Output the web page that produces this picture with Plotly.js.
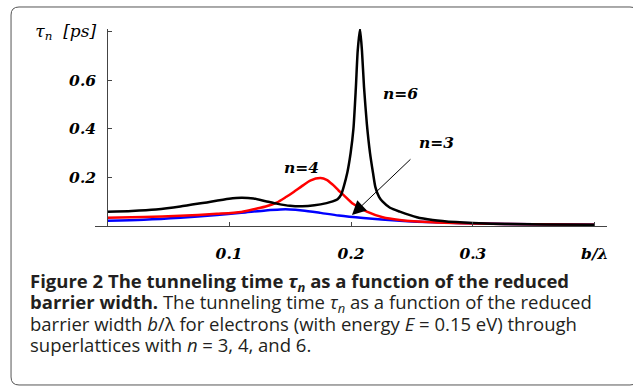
<!DOCTYPE html>
<html>
<head>
<meta charset="utf-8">
<script src="https://cdn.plot.ly/plotly-3.0.1.min.js"></script>
<style>
html,body{margin:0;padding:0;background:#fff;}
#chart{width:633px;height:388px;}
</style>
</head>
<body>
<div id="chart"></div>
<script>
// Reduced barrier width b/lambda and tunneling time tau_n [ps]
const b6 = [0, 0.02, 0.04, 0.06, 0.08, 0.10, 0.11, 0.12, 0.13, 0.14, 0.15, 0.16, 0.17, 0.18, 0.185, 0.189, 0.192, 0.194, 0.197, 0.1997, 0.202, 0.204, 0.2055, 0.2074, 0.209, 0.2107, 0.213, 0.2156, 0.218, 0.22, 0.223, 0.226, 0.232, 0.24, 0.254, 0.267, 0.286, 0.30, 0.33, 0.36, 0.40];
const tau6 = [0.059, 0.062, 0.068, 0.080, 0.096, 0.112, 0.116, 0.113, 0.102, 0.091, 0.083, 0.081, 0.085, 0.094, 0.101, 0.11, 0.13, 0.161, 0.22, 0.30, 0.40, 0.57, 0.72, 0.81, 0.72, 0.57, 0.42, 0.30, 0.22, 0.16, 0.12, 0.10, 0.075, 0.059, 0.036, 0.025, 0.016, 0.012, 0.008, 0.006, 0.005];

const b4 = [0, 0.03, 0.06, 0.09, 0.11, 0.123, 0.13, 0.139, 0.147, 0.153, 0.16, 0.167, 0.175, 0.18, 0.185, 0.19, 0.194, 0.202, 0.213, 0.226, 0.24, 0.267, 0.30, 0.35, 0.40];
const tau4 = [0.034, 0.037, 0.042, 0.050, 0.058, 0.072, 0.080, 0.096, 0.120, 0.140, 0.165, 0.188, 0.197, 0.190, 0.170, 0.145, 0.127, 0.090, 0.059, 0.036, 0.025, 0.015, 0.010, 0.007, 0.005];

const b3 = [0, 0.03, 0.06, 0.09, 0.11, 0.13, 0.142, 0.15, 0.16, 0.175, 0.19, 0.21, 0.24, 0.27, 0.30, 0.35, 0.40];
const tau3 = [0.022, 0.026, 0.034, 0.045, 0.054, 0.064, 0.068, 0.068, 0.064, 0.054, 0.043, 0.033, 0.022, 0.015, 0.011, 0.007, 0.005];

const xTickVals = [0.1, 0.2, 0.3, 0.4];
const xTickText = ['0.1', '0.2', '0.3', 'b/λ'];
const yTickVals = [0.2, 0.4, 0.6, 0.8];
const yTickText = ['0.2', '0.4', '0.6', '<span style="font-weight:normal;font-size:17px">τ<sub>n</sub>  [ps]</span>'];

const captionLines = [
  '<b>Figure 2 The tunneling time <i>τ<sub>n</sub></i> as a function of the reduced</b>',
  '<b>barrier width.</b> The tunneling time <i>τ<sub>n</sub></i> as a function of the reduced',
  'barrier width <i>b</i>/λ for electrons (with energy <i>E</i> = 0.15 eV) through',
  'superlattices with <i>n</i> = 3, 4, and 6.'
];

const mathFont = {family: 'DejaVu Serif', size: 15.5, color: '#000', style: 'italic', weight: 'bold'};

const traces = [
  {x: b3, y: tau3, mode: 'lines', line: {color: '#0000ff', width: 2.5, shape: 'spline', smoothing: 0.8}, name: 'n=3'},
  {x: b4, y: tau4, mode: 'lines', line: {color: '#ff0000', width: 2.5, shape: 'spline', smoothing: 0.8}, name: 'n=4'},
  {x: b6, y: tau6, mode: 'lines', line: {color: '#000000', width: 2.5, shape: 'spline', smoothing: 0.6}, name: 'n=6'}
];

const annotations = [
  {x: 0.2402, y: 0.545, xref: 'x', yref: 'y', text: 'n=6', showarrow: false, font: mathFont},
  {x: 0.2705, y: 0.345, xref: 'x', yref: 'y', text: 'n=3', showarrow: false, font: mathFont},
  {x: 0.1598, y: 0.242, xref: 'x', yref: 'y', text: 'n=4', showarrow: false, font: mathFont},
  {x: 0.2008, y: 0.045, xref: 'x', yref: 'y', ax: 0.25, ay: 0.28, axref: 'x', ayref: 'y', text: '',
   showarrow: true, arrowhead: 2, arrowsize: 2.8, arrowwidth: 1, arrowcolor: '#000'}
];

const capY = [-0.284, -0.391, -0.497, -0.604];
captionLines.forEach((t, i) => {
  annotations.push({
    x: -0.1309, y: capY[i], xref: 'paper', yref: 'paper', xanchor: 'left', yanchor: 'middle',
    text: t, showarrow: false, align: 'left',
    font: {family: 'Open Sans', size: 18.5, color: '#231f20'}
  });
});

// rounded frame around figure (paper coords)
const L = -0.164, R = 1.0605, T = 1.1117, B = -0.807, rx = 0.0156, ry = 0.0406;
const framePath = `M ${L+rx},${T} L ${R-rx},${T} Q ${R},${T} ${R},${T-ry} L ${R},${B+ry} Q ${R},${B} ${R-rx},${B} L ${L+rx},${B} Q ${L},${B} ${L},${B+ry} L ${L},${T-ry} Q ${L},${T} ${L+rx},${T} Z`;

const layout = {
  width: 633, height: 388,
  margin: {l: 95, r: 26, t: 29, b: 162},
  paper_bgcolor: '#fff', plot_bgcolor: '#fff',
  showlegend: false,
  xaxis: {
    range: [-0.01, 0.41], showgrid: false, zeroline: false,
    showline: true, linecolor: '#444', linewidth: 1,
    ticks: 'inside', ticklen: 4, tickcolor: '#444',
    tickvals: xTickVals, ticktext: xTickText, tickfont: mathFont,
    ticklabelstandoff: 13
  },
  yaxis: {
    range: [0, 0.81], showgrid: false, zeroline: false,
    anchor: 'free', position: 0.01 / 0.42,
    showline: true, linecolor: '#444', linewidth: 1,
    ticks: 'inside', ticklen: 4, tickcolor: '#444',
    tickvals: yTickVals, ticktext: yTickText, tickfont: mathFont,
    ticklabelstandoff: 8
  },
  annotations: annotations,
  shapes: [{type: 'path', path: framePath, xref: 'paper', yref: 'paper', line: {color: '#555', width: 1}}]
};

Plotly.newPlot('chart', traces, layout, {displayModeBar: false, staticPlot: true});
</script>
</body>
</html>
